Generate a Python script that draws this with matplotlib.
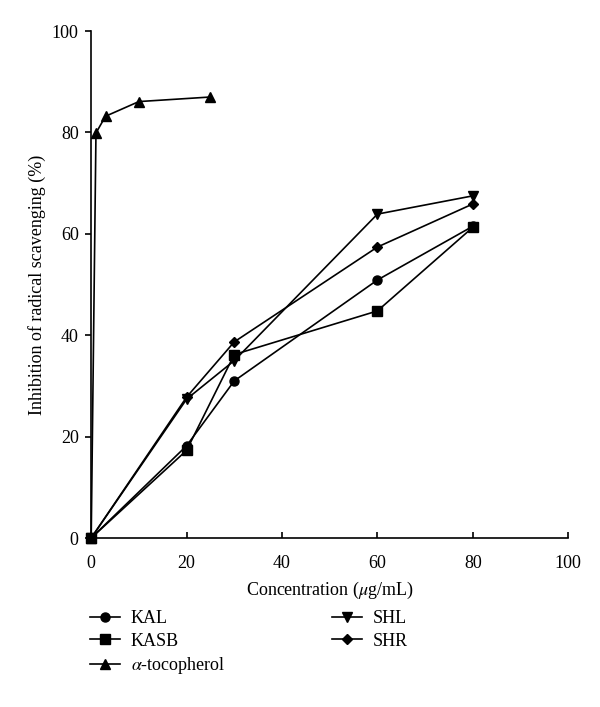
import numpy as np
import matplotlib
matplotlib.use("Agg")
import matplotlib.pyplot as plt

plt.rcParams['font.family'] = ['Liberation Serif', 'DejaVu Serif']
plt.rcParams['mathtext.fontset'] = 'stix'

# data
conc = [0, 20, 30, 60, 80]
kal = [0, 18.2, 31.0, 50.9, 61.5]
kasb = [0, 17.3, 36.2, 44.8, 61.3]
shl = [0, 27.4, 35.0, 63.9, 67.5]
shr = [0, 27.8, 38.7, 57.4, 65.9]

toco_conc = [0, 1, 3, 10, 25]
toco = [0, 79.9, 83.2, 86.1, 87.0]

fig = plt.figure(figsize=(6, 7.07), dpi=100)
ax = fig.add_axes([0.152, 0.239, 0.795, 0.717])

kw = dict(color='black', lw=1.2, ms=6.5, clip_on=False)
ax.plot(conc, kal, marker='o', label='KAL', **kw)
ax.plot(conc, kasb, marker='s', label='KASB', **kw)
ax.plot(toco_conc, toco, marker='^', label=r'$\alpha$-tocopherol', **kw)
ax.plot(conc, shl, marker='v', label='SHL', **kw)
ax.plot(conc, shr, marker='D', label='SHR', ms=5.5, color='black', lw=1.2, clip_on=False)

ax.set_xlim(0, 100)
ax.set_ylim(0, 100)
ax.set_xticks(range(0, 101, 20))
ax.set_yticks(range(0, 101, 20))
ax.spines['top'].set_visible(False)
ax.spines['right'].set_visible(False)
ax.spines['left'].set_linewidth(1.2)
ax.spines['bottom'].set_linewidth(1.2)
ax.tick_params(axis='x', direction='in', length=4, width=1.2, labelsize=13, pad=12)
ax.tick_params(axis='y', direction='out', length=4, width=1.2, labelsize=13, pad=5)
ax.set_xlabel(r'Concentration ($\mu$g/mL)', fontsize=13, labelpad=6)
ax.set_ylabel('Inhibition of radical scavenging (%)', fontsize=13, labelpad=4)

fig.legend(loc='upper left', bbox_to_anchor=(0.138, 0.147), ncol=2, frameon=False,
           fontsize=13, handlelength=1.65, handletextpad=0.6, columnspacing=5.9,
           labelspacing=0.3, borderaxespad=0)

fig.savefig('out.png', dpi=100)
